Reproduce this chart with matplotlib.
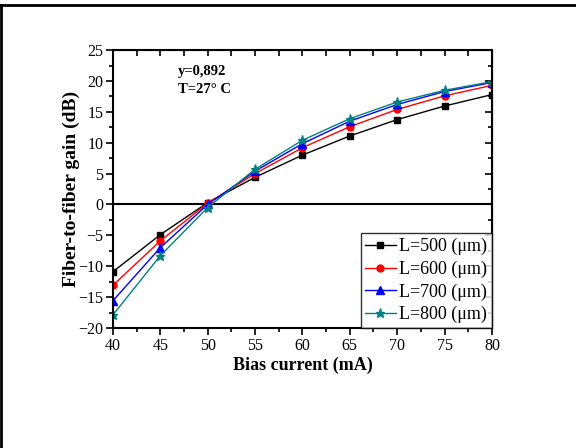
import matplotlib
matplotlib.use("Agg")
import matplotlib.pyplot as plt
from matplotlib.ticker import MultipleLocator
from matplotlib.lines import Line2D

plt.rcParams['font.family'] = ['Liberation Serif', 'DejaVu Serif']

current = [40, 45, 50, 55, 60, 65, 70, 75, 80]
gain_500 = [-10.9, -4.9, 0.3, 4.4, 8.0, 11.1, 13.75, 15.95, 17.8]
gain_600 = [-13.1, -5.9, 0.2, 5.0, 9.2, 12.6, 15.4, 17.6, 19.3]
gain_700 = [-15.6, -7.0, 0.0, 5.4, 9.85, 13.5, 16.2, 18.3, 19.75]
gain_800 = [-17.9, -8.3, -0.5, 5.7, 10.4, 13.9, 16.6, 18.5, 19.9]
labels = ["L=500 (\u03bcm)", "L=600 (\u03bcm)", "L=700 (\u03bcm)", "L=800 (\u03bcm)"]

fig = plt.figure(figsize=(5.76, 4.48), dpi=100)
ax = fig.add_axes([0.196, 0.268, 0.658, 0.62])

styles = [
    (gain_500, 'black', 's', 4.5),
    (gain_600, 'red', 'o', 5),
    (gain_700, 'blue', '^', 5.5),
    (gain_800, '#008080', '*', 6.5),
]
for (g, c, m, ms), lab in zip(styles, labels):
    ax.plot(current, g, color=c, marker=m, markersize=ms, lw=1.0, label=lab)

ax.axhline(0, color='black', lw=1.5, zorder=1)

ax.set_xlim(40, 80)
ax.set_ylim(-20, 25)
ax.xaxis.set_major_locator(MultipleLocator(5))
ax.xaxis.set_minor_locator(MultipleLocator(2.5))
ax.yaxis.set_major_locator(MultipleLocator(5))
ax.yaxis.set_minor_locator(MultipleLocator(2.5))
ax.tick_params(which='both', direction='out', top=False, right=False, labelsize=11.5, width=1.2, pad=2)
ax.tick_params(which='major', length=5)
ax.tick_params(which='minor', length=3)
for s in ax.spines.values():
    s.set_linewidth(1.5)

# inward ticks on top and right
ax2 = ax.secondary_xaxis('top')
ax2.xaxis.set_major_locator(MultipleLocator(2.5))
ax2.tick_params(direction='in', length=4, width=1.2, labeltop=False)
ax3 = ax.secondary_yaxis('right')
ax3.yaxis.set_major_locator(MultipleLocator(5))
ax3.yaxis.set_minor_locator(MultipleLocator(2.5))
ax3.tick_params(which='both', direction='in', width=1.2, labelright=False)
ax3.tick_params(which='major', length=5)
ax3.tick_params(which='minor', length=3)

ax.set_xlabel('Bias current (mA)', fontsize=13, fontweight='bold', labelpad=2)
ax.set_ylabel('Fiber-to-fiber gain (dB)', fontsize=14, fontweight='bold')
ax.yaxis.set_label_coords(-0.088, 0.5)

ax.text(46.9, 20.9, 'y=0,892', fontsize=10.5, fontweight='bold')
ax.text(46.9, 18.1, 'T=27\u00b0 C', fontsize=10.5, fontweight='bold')

leg = ax.legend(loc='lower right', fontsize=13, frameon=True, fancybox=False,
                edgecolor='black', handlelength=1.7, handletextpad=0.2,
                borderpad=0.25, labelspacing=0.3, borderaxespad=0.0)
leg.get_frame().set_linewidth(1.0)

# partial figure border (top and left)
fig.add_artist(Line2D([0, 1], [1 - 5.5/448, 1 - 5.5/448], color='black', lw=2, transform=fig.transFigure))
fig.add_artist(Line2D([1/576, 1/576], [0, 1 - 5.5/448], color='black', lw=2, transform=fig.transFigure))

fig.savefig('out.png', dpi=100)
